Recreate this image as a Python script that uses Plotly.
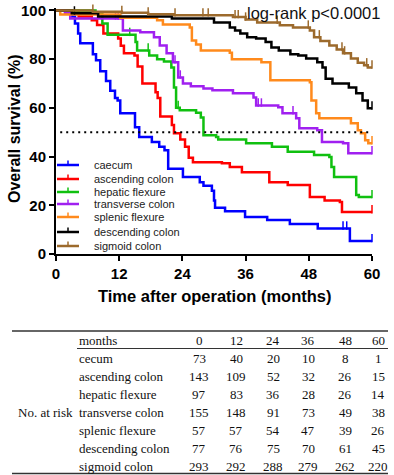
import plotly.graph_objects as go

# ---------------- data ----------------
series_names = ["caecum", "ascending colon", "hepatic flexure", "transverse colon",
                "splenic flexure", "descending colon", "sigmoid colon"]
series_colors = ["#0000FF", "#FF0000", "#10C010", "#A020F0", "#FF8A1C", "#000000", "#9C6A2C"]

caecum_t = [0, 3.0, 3.6, 4.2, 4.6, 7.0, 7.6, 8.4, 9.5, 10.3, 11.2, 11.7, 12.2, 15.0, 15.8, 18.2, 19.6, 20.6, 21.3,
            24.1, 27.3, 28.0, 29.6, 30.0, 30.2, 32.1, 35.9, 40.1, 44.4, 49.7, 55.8, 60]
caecum_s = [100, 97.5, 94.6, 90.5, 86.5, 82, 79.5, 75, 71, 67, 64, 63, 57.8, 52, 48, 46, 44, 42.6, 35,
            31.6, 29.5, 28, 26, 22, 19, 17.6, 15.2, 14, 12.3, 10.5, 5.3, 5.3]
caecum_cens = [54.5, 55.2, 60]

ascending_t = [0, 4.3, 6.8, 7.8, 9.0, 11.8, 12.3, 12.9, 14.9, 15.5, 16.4, 18.9, 19.3, 19.8, 22.0, 22.4, 23.6, 24.5,
               25.2, 26.0, 31.5, 33.0, 35.3, 40.5, 44.0, 48.2, 51.0, 53.9, 54.3, 60]
ascending_s = [100, 97.5, 96, 94, 90.5, 88.5, 85.5, 82.4, 81.5, 77, 70, 66.4, 64, 56.5, 53, 49.6, 47, 44,
               39.5, 37.7, 37.3, 35.7, 33.6, 29.5, 28.3, 23.4, 22, 21.3, 17.2, 17.2]
ascending_cens = [2.2, 60]

hepatic_t = [0, 7.5, 8.8, 9.8, 15.1, 15.4, 17.7, 19.2, 20.5, 21.9, 22.4, 22.8, 23.5, 26.6, 27.5, 28.0, 30.4, 30.8,
             36.1, 41.0, 44.0, 49.0, 51.9, 52.3, 52.8, 57.0, 57.5, 60]
hepatic_s = [100, 98.6, 94.6, 90, 87, 83.6, 81.5, 80, 79, 76.6, 68.4, 60, 59, 58, 56, 48.8, 48, 47,
             45.5, 44, 42, 40.6, 39.8, 35.7, 31.6, 24.2, 23.4, 23.4]
hepatic_cens = [7.0, 14.0, 17.5, 23.2, 60]

transverse_t = [0, 1.7, 2.7, 12.7, 16.0, 18.6, 19.7, 21.0, 22.2, 23.2, 24.1, 25.6, 28.0, 29.7, 33.6, 37.5, 38.0,
                42.2, 43.0, 45.6, 46.2, 49.6, 50.5, 54.5, 55.5, 60]
transverse_s = [100, 98.8, 96.7, 91.8, 91, 89, 85.6, 82.4, 78.7, 72.5, 70, 68.9, 68, 67.2, 66, 64.3, 61,
                60.2, 57.8, 55.7, 51.6, 50.8, 46, 45.5, 41.4, 41.4]
transverse_cens = [11.3, 11.8, 22.6, 23.6, 38.4, 39.0, 45.0, 60]

splenic_t = [0, 0.8, 12.2, 19.2, 20.3, 25.4, 25.8, 26.6, 27.5, 33.0, 33.4, 39.0, 40.7, 48.2, 48.5, 49.4, 50.0,
             56.0, 57.3, 57.9, 58.7, 59.3, 60]
splenic_s = [100, 98.3, 97, 96, 94.2, 93, 87.7, 86, 83.6, 82.6, 80, 78.7, 71.3, 70.5, 63, 57.8, 55.7,
             53.7, 50.8, 49.6, 46.7, 45.5, 45.5]
splenic_cens = [60]

descending_t = [0, 3.0, 8.0, 22.0, 30.0, 33.0, 34.0, 35.0, 36.3, 38.0, 39.8, 40.9, 42.3, 44.5, 46.0, 47.5, 49.6,
                50.6, 51.2, 52.5, 55.6, 57.0, 58.2, 59.2, 60]
descending_s = [100, 98.8, 97.5, 96.7, 95, 93, 91.8, 90.5, 89, 88.5, 87, 84.8, 83.6, 82, 81.5, 80.3, 78.7,
                76.6, 72, 70, 68.4, 66, 63, 59.8, 59.8]
descending_cens = [3.5, 60]

sigmoid_t = [0, 7.0, 12.5, 17.5, 22.4, 33.6, 36.0, 38.2, 42.5, 45.0, 48.2, 49.0, 50.2, 51.9, 53.3, 54.5, 56.0,
             57.3, 58.5, 59.2, 60]
sigmoid_s = [100, 99.5, 99, 98.4, 98, 97.3, 96.3, 95, 93.9, 93, 91.8, 89, 87.5, 85.6, 84, 82.4, 80.3,
             78.5, 77.5, 76.6, 76.6]
sigmoid_cens = [3.6, 7.0, 12.5, 17.5, 22.6, 27.9, 28.9, 34.0, 34.6, 36.0, 42.0, 47.9, 50.0, 54.3, 54.8, 59.0, 60]

x_ticks = [0, 12, 24, 36, 48, 60]
y_ticks = [0, 20, 40, 60, 80, 100]
median_line = 50

table_rows = ["cecum", "ascending colon", "hepatic flexure", "transverse colon",
              "splenic flexure", "descending colon", "sigmoid colon"]
risk_cecum = [73, 40, 20, 10, 8, 1]
risk_ascending = [143, 109, 52, 32, 26, 15]
risk_hepatic = [97, 83, 36, 28, 26, 14]
risk_transverse = [155, 148, 91, 73, 49, 38]
risk_splenic = [57, 57, 54, 47, 39, 26]
risk_descending = [77, 76, 75, 70, 61, 45]
risk_sigmoid = [293, 292, 288, 279, 262, 220]

# ---------------- figure ----------------
W, H = 394, 475
ML, MR, MT, MB = 56, 22, 8, 221
PW, PH = W - ML - MR, H - MT - MB


def px2x(px):
    return (px - ML) / PW


def py2y(py):
    return (H - MB - py) / PH


SANS = "Liberation Sans, Arial, sans-serif"
SERIF = "Liberation Serif, Times New Roman, serif"

curves = [
    (caecum_t, caecum_s, caecum_cens),
    (ascending_t, ascending_s, ascending_cens),
    (hepatic_t, hepatic_s, hepatic_cens),
    (transverse_t, transverse_s, transverse_cens),
    (splenic_t, splenic_s, splenic_cens),
    (descending_t, descending_s, descending_cens),
    (sigmoid_t, sigmoid_s, sigmoid_cens),
]


def step_value(ts, ss, t):
    v = ss[0]
    for ti, si in zip(ts, ss):
        if ti <= t:
            v = si
    return v


fig = go.Figure()
for name, color, (ts, ss, cens) in zip(series_names, series_colors, curves):
    fig.add_trace(go.Scatter(x=ts, y=ss, mode="lines", line=dict(color=color, width=2.5, shape="hv"),
                             name=name, showlegend=False, cliponaxis=False))
    fig.add_trace(go.Scatter(x=cens, y=[step_value(ts, ss, c) + 1.2 for c in cens], mode="markers",
                             marker=dict(symbol="line-ns", size=6, line=dict(color=color, width=1.5)),
                             showlegend=False, cliponaxis=False, hoverinfo="skip"))

shapes = []
annotations = []

# median dotted line
shapes.append(dict(type="line", xref="x", yref="y", x0=0.8, x1=60, y0=median_line, y1=median_line,
                   line=dict(color="black", width=2, dash="2px,4px")))

# manual legend
leg_y = [165, 179, 192, 204, 217, 232, 246]
for name, color, ly in zip(series_names, series_colors, leg_y):
    shapes.append(dict(type="line", xref="paper", yref="paper", x0=px2x(57), x1=px2x(79),
                       y0=py2y(ly), y1=py2y(ly), line=dict(color=color, width=2.5)))
    shapes.append(dict(type="line", xref="paper", yref="paper", x0=px2x(68), x1=px2x(68),
                       y0=py2y(ly), y1=py2y(ly - 4.5), line=dict(color=color, width=1.5)))
    annotations.append(dict(x=px2x(92), y=py2y(ly), xref="paper", yref="paper", text=name,
                            showarrow=False, xanchor="left", yanchor="middle",
                            font=dict(family=SANS, size=11, color="#222")))

# titles
annotations.append(dict(x=px2x(382), y=py2y(13), xref="paper", yref="paper", text="log-rank p<0.0001",
                        showarrow=False, xanchor="right", yanchor="middle",
                        font=dict(family=SANS, size=16.5, color="#111")))
annotations.append(dict(x=px2x(14), y=py2y(129), xref="paper", yref="paper", text="<b>Overall survival (%)</b>",
                        showarrow=False, textangle=-90, xanchor="center", yanchor="middle",
                        font=dict(family=SANS, size=16, color="black")))
annotations.append(dict(x=px2x(214), y=py2y(296), xref="paper", yref="paper",
                        text="<b>Time after operation (months)</b>", showarrow=False,
                        xanchor="center", yanchor="middle", font=dict(family=SANS, size=16.5, color="black")))

# table
col_x = [199, 236, 273, 308, 345, 378]
row_y0, row_dy = 358, 18
tfont = dict(family=SERIF, size=13, color="#111")
shapes.append(dict(type="line", xref="paper", yref="paper", x0=px2x(12), x1=px2x(388), y0=py2y(331), y1=py2y(331),
                   line=dict(color="#333", width=1.5)))
shapes.append(dict(type="line", xref="paper", yref="paper", x0=px2x(77), x1=px2x(388), y0=py2y(348.5), y1=py2y(348.5),
                   line=dict(color="#333", width=1.2)))
shapes.append(dict(type="line", xref="paper", yref="paper", x0=px2x(12), x1=px2x(388), y0=py2y(473.5), y1=py2y(473.5),
                   line=dict(color="#333", width=1.5)))
annotations.append(dict(x=px2x(77), y=py2y(340), xref="paper", yref="paper", text="months", showarrow=False,
                        xanchor="left", yanchor="middle", font=tfont))
for m, cx in zip(x_ticks, col_x):
    annotations.append(dict(x=px2x(cx), y=py2y(340), xref="paper", yref="paper", text=str(m), showarrow=False,
                            xanchor="center", yanchor="middle", font=tfont))
risk_all = [risk_cecum, risk_ascending, risk_hepatic, risk_transverse, risk_splenic, risk_descending, risk_sigmoid]
for i, (lab, vals) in enumerate(zip(table_rows, risk_all)):
    ry = row_y0 + i * row_dy
    annotations.append(dict(x=px2x(77), y=py2y(ry), xref="paper", yref="paper", text=lab, showarrow=False,
                            xanchor="left", yanchor="middle", font=tfont))
    for v, cx in zip(vals, col_x):
        annotations.append(dict(x=px2x(cx), y=py2y(ry), xref="paper", yref="paper", text=str(v),
                                showarrow=False, xanchor="center", yanchor="middle", font=tfont))
annotations.append(dict(x=px2x(45), y=py2y(row_y0 + 3 * row_dy), xref="paper", yref="paper", text="No. at risk",
                        showarrow=False, xanchor="center", yanchor="middle", font=tfont))

fig.update_layout(
    width=W, height=H,
    margin=dict(l=ML, r=MR, t=MT, b=MB, autoexpand=False),
    paper_bgcolor="white", plot_bgcolor="white",
    shapes=shapes, annotations=annotations, showlegend=False,
    xaxis=dict(range=[0, 60], tickvals=x_ticks, ticks="outside", ticklen=5, tickwidth=2, tickcolor="black",
               showline=True, linewidth=2, linecolor="black", showgrid=False, zeroline=False,
               tickfont=dict(family=SANS, size=15, color="black", weight="bold"), automargin=False),
    yaxis=dict(range=[0, 101], tickvals=y_ticks, ticks="outside", ticklen=5, tickwidth=2, tickcolor="black",
               showline=True, linewidth=2, linecolor="black", showgrid=False, zeroline=False,
               tickfont=dict(family=SANS, size=15, color="black", weight="bold"), automargin=False),
)

fig.write_html("out.html", config={"displayModeBar": False},
               post_script="document.body.style.margin='0px';document.body.style.padding='0px';")
